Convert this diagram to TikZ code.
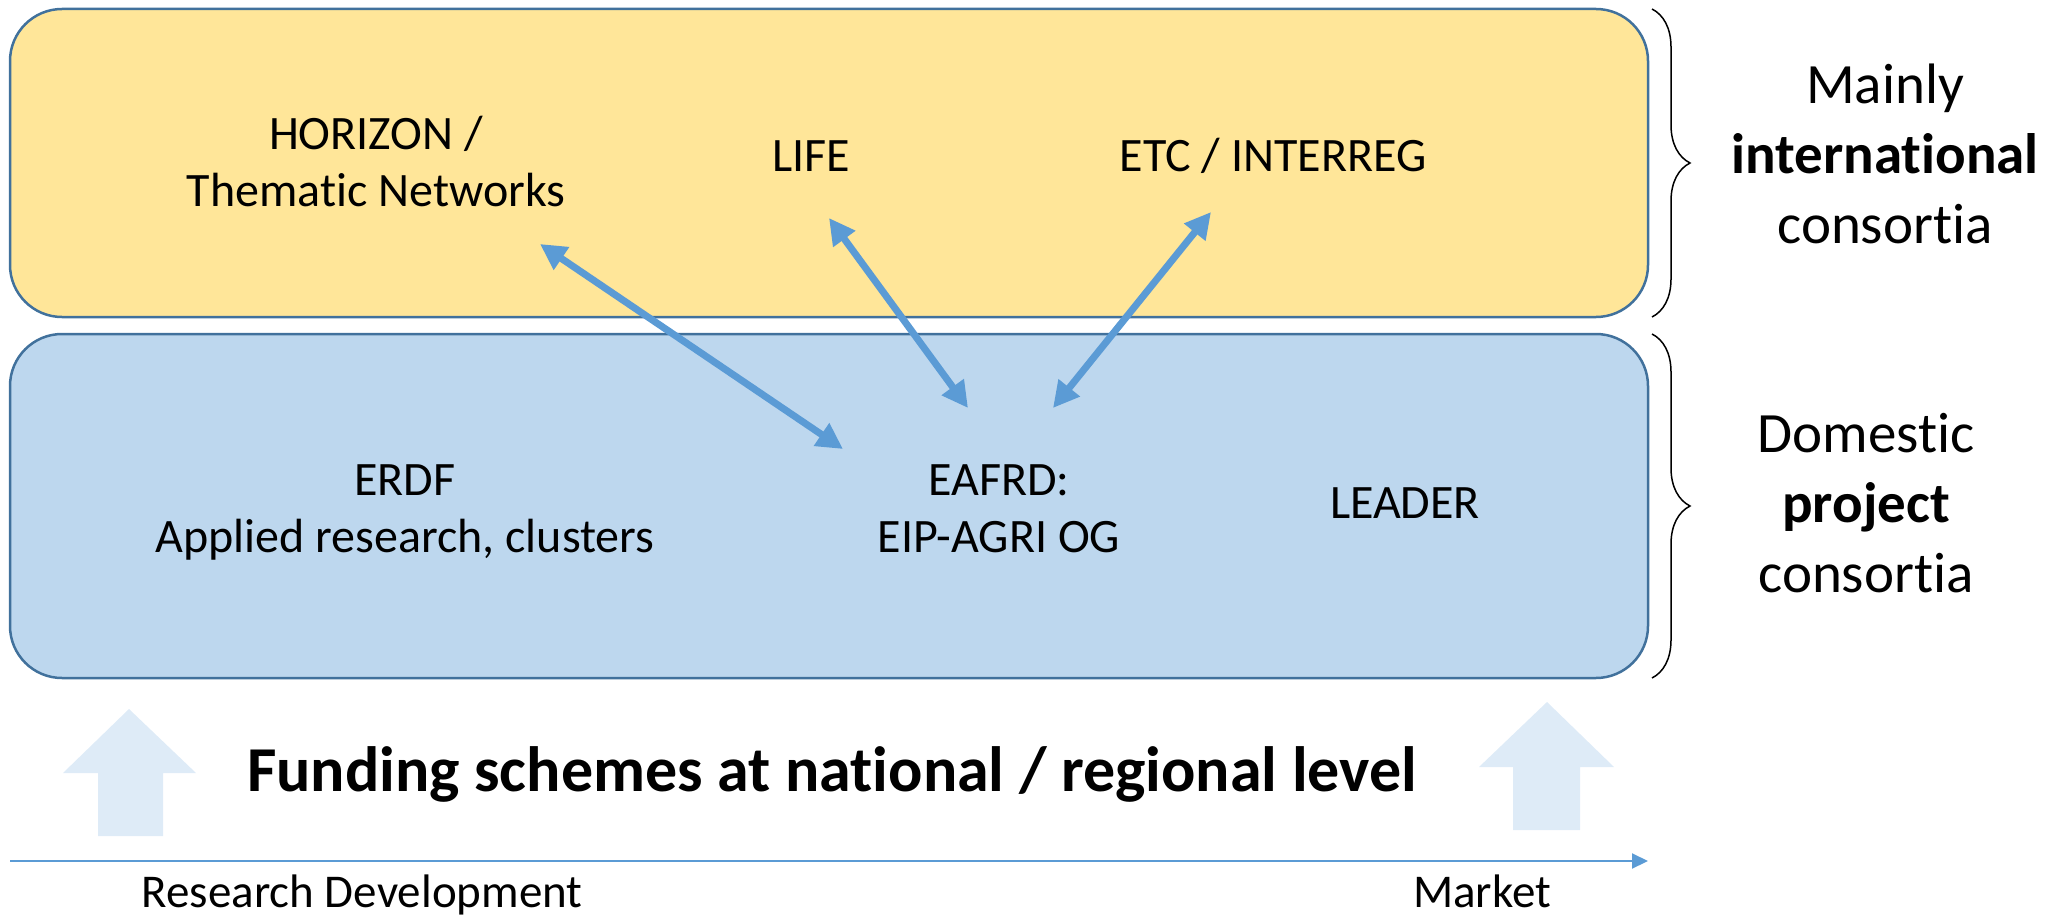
\documentclass[tikz,border=0pt]{standalone}
\usepackage{fontspec}
\setmainfont{Carlito}[Ligatures={NoCommon}]
\usetikzlibrary{arrows.meta,decorations.pathreplacing}
\definecolor{boxyellow}{HTML}{FFE699}
\definecolor{boxblue}{HTML}{BDD7EE}
\definecolor{boxedge}{HTML}{41719C}
\definecolor{linkblue}{HTML}{5B9BD5}
\definecolor{paleblue}{HTML}{DEEBF7}
\begin{document}
\begin{tikzpicture}[x=1pt,y=-1pt,
  panel/.style={draw=boxedge, line width=2.5pt, rounded corners=52pt},
  lbl/.style={font=\fontsize{48}{57}\selectfont, align=center, inner sep=0pt, anchor=base},
  side/.style={font=\fontsize{57}{70}\selectfont, align=center, inner sep=0pt, anchor=base},
  small/.style={font=\fontsize{47}{54}\selectfont, inner sep=0pt, anchor=base},
  link/.style={draw=linkblue, line width=7pt, {Triangle[length=26pt,width=26pt]}-{Triangle[length=26pt,width=26pt]}},
  bracestyle/.style={draw=black, line width=1.5pt, decorate, decoration={brace, amplitude=38pt}},
  blockarrow/.style={fill=paleblue, draw=none}
]
\useasboundingbox (0,0) rectangle (2047,915);

% panels
\draw[panel, fill=boxyellow] (10,9) rectangle (1648,317);
\draw[panel, fill=boxblue] (10,334) rectangle (1648,678);

% braces
\draw[bracestyle] (1652,9) -- (1652,317);
\draw[bracestyle] (1652,334) -- (1652,678);

% labels in panels (base anchor = last line's baseline)
\node[lbl] (horizon) at (376,206) {HORIZON /\\Thematic Networks};
\node[lbl] (life) at (811,171) {LIFE};
\node[lbl] (etc) at (1273,171) {ETC / INTERREG};
\node[lbl] (erdf) at (405,552) {ERDF\\Applied research, clusters};
\node[lbl] (eafrd) at (999,552) {EAFRD:\\EIP-AGRI OG};
\node[lbl] (leader) at (1405,518) {LEADER};

% side labels
\node[side] (intl) at (1885,243) {Mainly\\\textbf{international}\\consortia};
\node[side] (dom) at (1866,592) {Domestic\\\textbf{project}\\consortia};

% connectors
\coordinate (hzend) at (540,244);
\coordinate (eaA) at (843,449);
\coordinate (lfend) at (829,218);
\coordinate (eaB) at (968,408);
\coordinate (etend) at (1211,212);
\coordinate (eaC) at (1053,408);
\draw[link] (hzend) -- (eaA);
\draw[link] (lfend) -- (eaB);
\draw[link] (etend) -- (eaC);

% block arrows
\fill[blockarrow] (98,836) -- (98,773) -- (63,773) -- (129,709) -- (196,773) -- (163,773) -- (163,836) -- cycle;
\fill[blockarrow] (1513,830) -- (1513,767) -- (1479,767) -- (1547,702) -- (1614,767) -- (1580,767) -- (1580,830) -- cycle;

% funding title
\node[font=\bfseries\fontsize{64}{72}\selectfont, inner sep=0pt, anchor=base] (fund) at (832,791) {Funding schemes at national / regional level};

% timeline
\coordinate (tlstart) at (10,861);
\coordinate (tlend) at (1648,861);
\draw[draw=linkblue, line width=2pt, -{Triangle[length=16pt,width=15pt]}] (tlstart) -- (tlend);
\node[small] (rd) at (362,907) {Research Development};
\node[small] (market) at (1482,907) {Market};
\end{tikzpicture}
\end{document}
